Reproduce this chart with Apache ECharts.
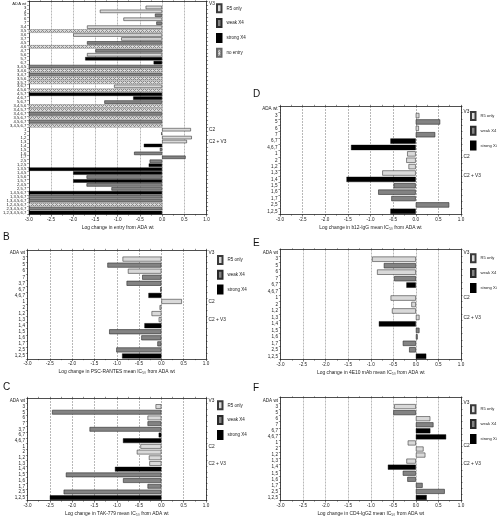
<!DOCTYPE html>
<html>
<head>
<meta charset="utf-8">
<script src="https://cdn.jsdelivr.net/npm/echarts@6/dist/echarts.min.js"></script>
<style>
  html, body { margin: 0; padding: 0; background: #fff; overflow: hidden; }
  #chart { width: 497px; height: 517px; }
</style>
</head>
<body>
<div id="chart"></div>
<script>
// ---- data ----
// class codes: r = R5 only, w = weak X4, s = strong X4, n = no entry
const catsA = ['ADA wt', '3', '4', '5', '6', '7',
  '3,4', '3,5', '3,6', '3,7', '4,5', '4,6', '4,7', '5,6', '5,7', '6,7',
  '3,4,5', '3,4,6', '3,4,7', '3,5,6', '3,5,7', '3,6,7', '4,5,6', '4,5,7', '4,6,7', '5,6,7',
  '3,4,5,6', '3,4,5,7', '3,4,6,7', '3,5,6,7', '4,5,6,7', '3,4,5,6,7',
  '1', '2',
  '1,2', '1,3', '1,4', '1,5', '1,6', '1,7', '2,5', '1,2,5', '1,3,5', '1,4,5', '1,5,6', '1,5,7',
  '2,4,5', '2,5,7', '1,4,5,6,7', '1,3,5,6,7', '1,3,4,5,6,7', '1,2,4,5,6,7', '2,3,4,5,6,7', '1,2,3,4,5,6,7'];
const valsA = [null, -0.37, -1.4, -0.16, -0.87, -0.13,
  -1.69, -3, -2.0, -0.92, -1.69, -3, -1.5, -1.69, -1.73, -0.19,
  -3, -3, -3, -3, -3, -1.08, -3, -3, -0.65, -1.3,
  -3, -3, -3, -3, -3, -3,
  0.65, -0.02,
  0.67, 0.56, -0.41, -0.05, -0.63, 0.53, -0.28, -0.3, -3, -2.0, -1.7, -2.0,
  -1.7, -1.14, -3, -3, -3, -3, -3, -3];
const clsA = ['', 'r', 'r', 'w', 'r', 'w',
  'r', 'n', 'r', 'r', 'w', 'n', 'w', 'r', 's', 's',
  'w', 'n', 'w', 'n', 'n', 'r', 'n', 's', 's', 'w',
  'n', 'n', 'w', 'n', 'w', 'n',
  'r', 'r',
  'r', 'r', 's', 'w', 'w', 'w', 'w', 's', 's', 's', 'w', 's',
  'w', 'w', 's', 'w', 'w', 'n', 'w', 's'];

const catsBC = ['ADA wt', '3', '5', '6', '7', '3,7', '6,7', '4,6,7', '1', '2', '1,2', '1,3', '1,4', '1,5', '1,6', '1,7', '2,5', '1,2,5'];
const clsBC = ['', 'r', 'w', 'r', 'w', 'w', 's', 's', 'r', 'r', 'r', 'r', 's', 'w', 'w', 'w', 'w', 's'];
const valsB = [null, -0.87, -1.21, -0.75, -0.43, -0.78, -0.02, -0.29, 0.46, -0.04, -0.22, -0.06, -0.38, -1.17, -0.45, -0.09, -1.01, -0.88];
const valsC = [null, -0.13, -2.45, -0.31, -0.31, -1.61, -0.06, -0.86, -0.47, -0.55, -0.28, -0.27, -1.04, -2.14, -0.86, -0.31, -2.19, -2.5];

const catsDEF = ['ADA wt', '3', '5', '6', '7', '6,7', '4,6,7', '1', '2', '1,2', '1,3', '1,4', '1,5', '1,6', '1,7', '2,5', '1,2,5'];
const clsDEF = ['', 'r', 'w', 'r', 'w', 's', 's', 'r', 'r', 'r', 'r', 's', 'w', 'w', 'w', 'w', 's'];
const valsD = [null, 0.08, 0.54, 0.07, 0.43, -0.56, -1.43, -0.19, -0.21, -0.16, -0.74, -1.53, -0.49, -0.83, -0.54, 0.74, -0.56];
const valsE = [null, -0.97, -0.71, -0.86, -0.48, -0.21, null, -0.56, -0.10, -0.53, 0.08, -0.82, 0.08, 0.04, -0.29, -0.15, 0.23];
const valsF = [null, -0.48, -0.50, 0.32, 0.39, 0.32, 0.67, -0.18, 0.17, 0.21, -0.21, -0.62, -0.29, -0.19, 0.15, 0.64, 0.24];

const xTicks = [-3, 1, 0.5]; // min, max, step

// ---- styling ----
const FONT = 'Liberation Sans, Arial, sans-serif';
const NARROW = 'Liberation Sans Narrow, Arial Narrow, Liberation Sans, sans-serif';
const NAMES = { r: 'R5 only', w: 'weak X4', s: 'strong X4', n: 'no entry' };

// small cross-hatch pattern for "no entry"
const pat = document.createElement('canvas');
pat.width = 4; pat.height = 4;
const pctx = pat.getContext('2d');
pctx.fillStyle = '#dcdcdc';
pctx.fillRect(0, 0, 4, 4);
pctx.fillStyle = '#8c8c8c';
for (let x = 0; x < 4; x++) {
  for (let y = 0; y < 4; y++) {
    if ((x + y) % 4 === 0 || (x - y + 4) % 4 === 0) pctx.fillRect(x, y, 1, 1);
  }
}

const STYLE = {
  r: { color: '#d9d9d9', borderColor: '#3a3a3a', borderWidth: 0.6 },
  w: { color: '#838383', borderColor: '#2a2a2a', borderWidth: 0.6 },
  s: { color: '#000000', borderColor: '#000', borderWidth: 0.4 },
  n: { color: { image: pat, repeat: 'repeat' }, borderColor: '#666', borderWidth: 0.4 }
};

const panels = [
  { cats: catsA, vals: valsA, cls: clsA, kinds: ['r', 'w', 's', 'n'],
    grid: { left: 28, top: 1.5, width: 178.5, height: 213 },
    title: 'Log change in entry from ADA wt',
    side: { 0: 'V3', 32: 'C2', 35: 'C2 + V3' }, sideAlign: 'middle',
    legend: { left: 216, top: 3.3, font: 4.5 }, catFont: 4.2 },
  { cats: catsBC, vals: valsB, cls: clsBC, kinds: ['r', 'w', 's'],
    grid: { left: 27.5, top: 250, width: 178.5, height: 109 },
    title: 'Log change in PSC-RANTES mean IC\u2085\u2080 from ADA wt',
    side: { 0: 'V3', 8: 'C2', 11: 'C2 + V3' }, sideAlign: 'middle',
    legend: { left: 217, top: 255, font: 4.5 }, letter: { t: 'B', x: 3, y: 232 } },
  { cats: catsBC, vals: valsC, cls: clsBC, kinds: ['r', 'w', 's'],
    grid: { left: 27.5, top: 398, width: 178.5, height: 108 },
    title: 'Log change in TAK-779 mean IC\u2085\u2080 from ADA wt',
    side: { 0: 'V3', 8: 'C2', 11: 'C2 + V3' }, sideAlign: 'middle',
    legend: { left: 217, top: 400.3, font: 4.5 }, letter: { t: 'C', x: 3, y: 382 } },
  { cats: catsDEF, vals: valsD, cls: clsDEF, kinds: ['r', 'w', 's'],
    grid: { left: 280, top: 106, width: 181, height: 108.5 },
    title: 'Log change in b12-IgG mean IC\u2085\u2080 from ADA wt',
    side: { 0: 'V3', 7: 'C2', 10: 'C2 + V3' }, sideAlign: 'top',
    legend: { left: 470, top: 111, font: 4.1 }, letter: { t: 'D', x: 253, y: 89 } },
  { cats: catsDEF, vals: valsE, cls: clsDEF, kinds: ['r', 'w', 's'],
    grid: { left: 280.5, top: 249.5, width: 180.5, height: 110 },
    title: 'Log change in 4E10 mAb mean IC\u2085\u2080 from ADA wt',
    side: { 0: 'V3', 7: 'C2', 10: 'C2 + V3' }, sideAlign: 'middle',
    legend: { left: 470, top: 253.3, font: 4.1 }, letter: { t: 'E', x: 253, y: 238 } },
  { cats: catsDEF, vals: valsF, cls: clsDEF, kinds: ['r', 'w', 's'],
    grid: { left: 280.5, top: 397.5, width: 180.5, height: 108 },
    title: 'Log change in CD4-IgG2 mean IC\u2085\u2080 from ADA wt',
    side: { 0: 'V3', 7: 'C2', 10: 'C2 + V3' }, sideAlign: 'top',
    legend: { left: 470, top: 404.3, font: 4.1 }, letter: { t: 'F', x: 253, y: 383 } }
];

const option = {
  animation: false,
  backgroundColor: '#fff',
  textStyle: { fontFamily: FONT },
  grid: [], xAxis: [], yAxis: [], series: [], legend: [], graphic: []
};

panels.forEach((p, gi) => {
  option.grid.push(Object.assign({ containLabel: false, show: false }, p.grid));

  // bottom value axis
  option.xAxis.push({
    type: 'value', gridIndex: gi, position: 'bottom',
    min: xTicks[0], max: xTicks[1], interval: xTicks[2],
    axisLine: { show: true, onZero: false, lineStyle: { color: '#222', width: 0.8 } },
    axisTick: { show: true, length: 2, lineStyle: { color: '#222', width: 0.6 } },
    minorTick: { show: true, splitNumber: 2, length: 1.2, lineStyle: { color: '#222', width: 0.5 } },
    axisLabel: { fontSize: 4.6, color: '#222', margin: 2.5, formatter: v => v.toFixed(1) },
    splitLine: { show: true, lineStyle: { color: '#9a9a9a', width: 0.7, type: [2, 1] } },
    name: p.title, nameLocation: 'middle', nameGap: 10.5,
    nameTextStyle: { fontSize: 4.9, color: '#222' }
  });
  // top frame axis
  option.xAxis.push({
    type: 'value', gridIndex: gi, position: 'top',
    min: xTicks[0], max: xTicks[1], interval: 0.25,
    axisLine: { show: true, onZero: false, lineStyle: { color: '#222', width: 0.8 } },
    axisTick: { show: true, length: 1.2, lineStyle: { color: '#222', width: 0.5 } },
    axisLabel: { show: false }, splitLine: { show: false }
  });

  // left category axis
  option.yAxis.push({
    type: 'category', gridIndex: gi, data: p.cats, inverse: true, position: 'left',
    axisLine: { show: true, onZero: false, lineStyle: { color: '#222', width: 0.8 } },
    axisTick: { show: true, length: 1.6, alignWithLabel: false, lineStyle: { color: '#222', width: 0.5 } },
    axisLabel: { interval: 0, fontSize: p.catFont || 4.6, color: '#222', margin: 2.5 },
    splitLine: { show: false }
  });
  // right frame axis with region labels
  const side = p.side;
  option.yAxis.push({
    type: 'category', gridIndex: gi, data: p.cats, inverse: true, position: 'right',
    axisLine: { show: true, onZero: false, lineStyle: { color: '#222', width: 0.8 } },
    axisTick: { show: true, length: 1.6, lineStyle: { color: '#222', width: 0.5 } },
    axisLabel: {
      interval: 0, fontSize: 4.8, color: '#222', margin: 2.5,
      verticalAlign: p.sideAlign,
      formatter: (v, i) => side[i] || ''
    },
    splitLine: { show: false }
  });

  p.kinds.forEach(k => {
    option.series.push({
      type: 'bar', name: NAMES[k],
      xAxisIndex: gi * 2, yAxisIndex: gi * 2,
      data: p.vals.map((v, i) => (p.cls[i] === k && v !== null) ? v : '-'),
      barGap: '-100%', barCategoryGap: gi === 0 ? '14%' : '18%',
      itemStyle: STYLE[k],
      emphasis: { disabled: true },
      silent: true
    });
  });

  option.legend.push({
    orient: 'vertical', left: p.legend.left, top: p.legend.top,
    padding: 0,
    data: p.kinds.map(k => NAMES[k]),
    icon: 'rect', itemWidth: 4.5, itemHeight: 8, itemGap: 4.8,
    selectedMode: false,
    textStyle: { fontSize: p.legend.font, color: '#222', fontFamily: NARROW }
  });

  if (p.letter) {
    option.graphic.push({
      type: 'text', left: p.letter.x, top: p.letter.y,
      style: { text: p.letter.t, fontSize: 10, fontFamily: FONT, fill: '#111' }
    });
  }
});

const chart = echarts.init(document.getElementById('chart'), null, { renderer: 'canvas' });
chart.setOption(option);
window.addEventListener('resize', () => chart.resize());
</script>
</body>
</html>
